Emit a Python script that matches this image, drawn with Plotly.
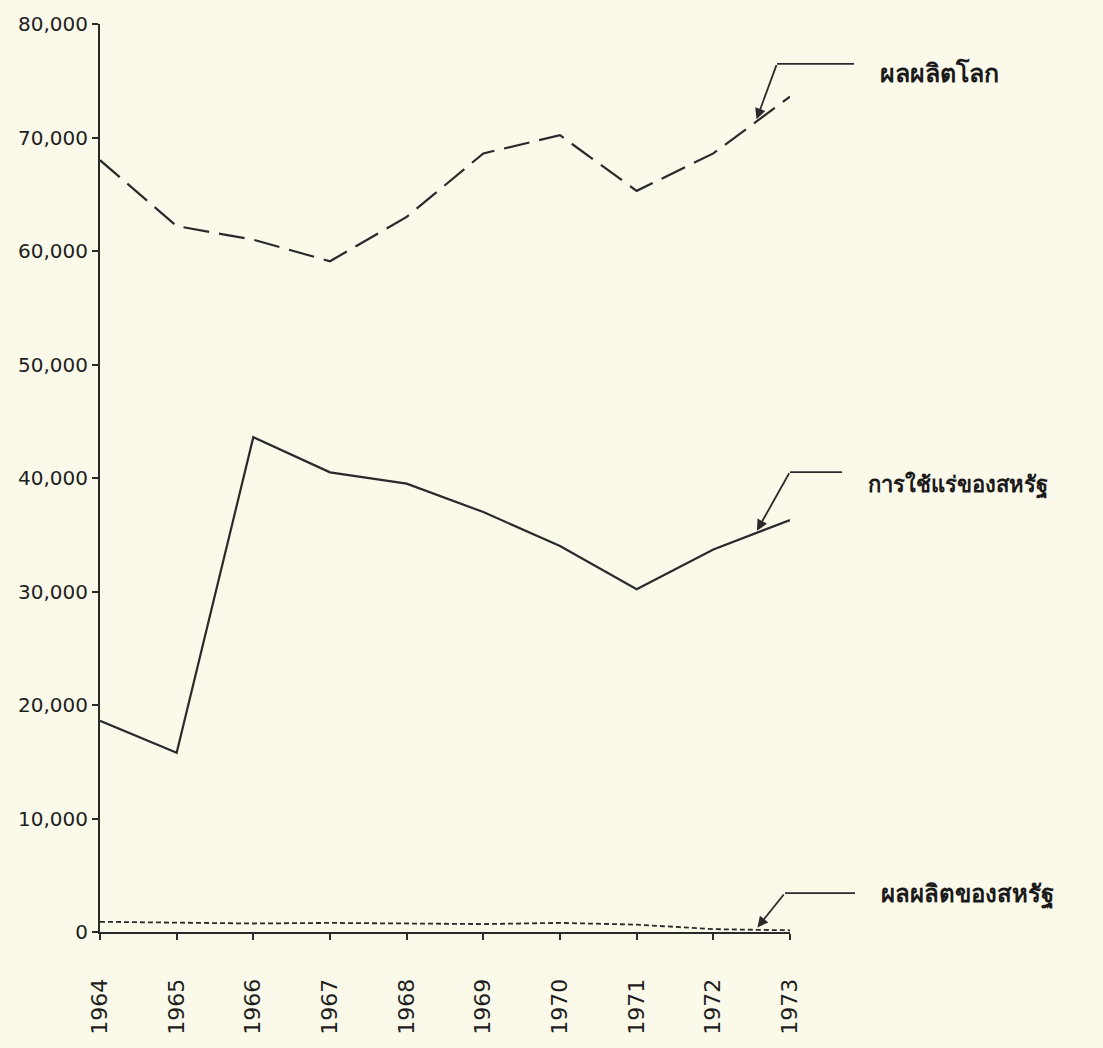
import plotly.graph_objects as go

years = [1964, 1965, 1966, 1967, 1968, 1969, 1970, 1971, 1972, 1973]
world_production = [68000, 62200, 61000, 59100, 63000, 68600, 70200, 65300, 68600, 73600]
us_consumption = [18600, 15800, 43600, 40500, 39500, 37000, 34000, 30200, 33700, 36300]
us_production = [900, 850, 750, 800, 750, 700, 800, 650, 250, 150]

y_ticks = [0, 10000, 20000, 30000, 40000, 50000, 60000, 70000, 80000]
y_tick_labels = ["0", "10,000", "20,000", "30,000", "40,000", "50,000", "60,000", "70,000", "80,000"]
label_world = "ผลผลิตโลก"
label_cons = "การใช้แร่ของสหรัฐ"
label_usprod = "ผลผลิตของสหรัฐ"

ink = "#2a2a2a"
bg = "#fbf9ea"

fig = go.Figure()
fig.add_trace(go.Scatter(x=years, y=world_production, mode="lines",
                         line=dict(color=ink, width=2.2, dash="26px,10px"), name=label_world))
fig.add_trace(go.Scatter(x=years, y=us_consumption, mode="lines",
                         line=dict(color=ink, width=2.2), name=label_cons))
fig.add_trace(go.Scatter(x=years, y=us_production, mode="lines",
                         line=dict(color=ink, width=1.8, dash="5px,3px"), name=label_usprod))

L, R, T, B = 100, 313, 20, 116
W, H = 1103, 1048
pw, ph = W - L - R, H - T - B

def px(xp):
    return (xp - L) / pw

def py(yp):
    return (H - B - yp) / ph

shapes = []
annotations = []
legend_items = [
    (label_world, world_production, 1972.55, (777, 60), (878, 68), 25),
    (label_cons, us_consumption, 1972.55, (790, 470), (866, 482), 22),
    (label_usprod, us_production, 1972.55, (785, 893), (879, 893), 24),
]
for label, series, tx, (tailx, taily), (textx, texty), fsize in legend_items:
    i = years.index(int(tx))
    f = tx - int(tx)
    ty = series[i] * (1 - f) + series[i + 1] * f
    tx_px = L + (tx - years[0]) / (years[-1] - years[0]) * pw
    ty_px = (H - B) - ty / 80000 * ph
    annotations.append(dict(x=tx, y=ty, xref="x", yref="y", text="", showarrow=True,
                            arrowhead=2, arrowsize=1.2, arrowwidth=1.8, arrowcolor=ink,
                            ax=tailx - tx_px, ay=taily - ty_px, standoff=3))
    shapes.append(dict(type="line", xref="paper", yref="paper",
                       x0=px(tailx), y0=py(taily), x1=px(textx - 24), y1=py(taily),
                       line=dict(color=ink, width=1.8)))
    annotations.append(dict(x=px(textx), y=py(texty), xref="paper", yref="paper",
                            text="<b>" + label + "</b>", showarrow=False, xanchor="left", yanchor="middle",
                            font=dict(family="Noto Sans", size=fsize, color="#1a1a1a")))

fig.update_layout(
    width=W, height=H,
    margin=dict(l=L, r=R, t=T, b=B),
    paper_bgcolor=bg, plot_bgcolor=bg,
    showlegend=False,
    shapes=shapes, annotations=annotations,
    font=dict(family="DejaVu Sans", color=ink),
)
fig.update_xaxes(range=[years[0], years[-1]], tickvals=years, ticktext=[str(y) for y in years],
                 tickangle=-90, showgrid=False, zeroline=False,
                 showline=True, linecolor=ink, linewidth=2,
                 ticks="outside", ticklen=6, tickwidth=1.5, tickcolor=ink,
                 tickfont=dict(family="DejaVu Sans", size=22, color="#1e1e1e"),
                 ticklabelstandoff=30)
fig.update_yaxes(range=[0, 80000], tickvals=y_ticks, ticktext=y_tick_labels,
                 showgrid=False, zeroline=False,
                 showline=True, linecolor=ink, linewidth=2,
                 ticks="outside", ticklen=6, tickwidth=1.5, tickcolor=ink,
                 tickfont=dict(family="DejaVu Sans", size=20, color="#1e1e1e"))

fig.write_html("out.html", config={"displayModeBar": False},
               post_script="document.body.style.margin='0';document.body.style.background='%s';" % bg)
